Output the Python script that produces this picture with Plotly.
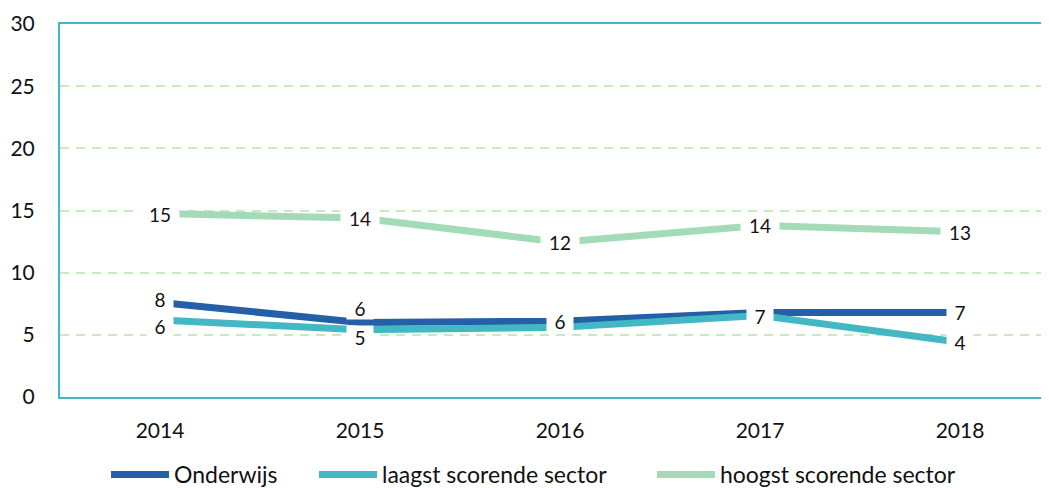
import plotly.graph_objects as go

# ---------------------------------------------------------------------------
# Data
# ---------------------------------------------------------------------------
years = ["2014", "2015", "2016", "2017", "2018"]
onderwijs = [7.6, 6.0, 6.1, 6.8, 6.8]
laagst = [6.2, 5.4, 5.6, 6.55, 4.4]
hoogst = [14.75, 14.4, 12.45, 13.8, 13.3]
y_ticks = [0, 5, 10, 15, 20, 25, 30]

series = [
    ("Onderwijs", onderwijs, "#245FA7"),
    ("laagst scorende sector", laagst, "#43B8C5"),
    ("hoogst scorende sector", hoogst, "#A3DBB8"),
]

# label nudges (px) where Excel moved crowded labels apart
_NUDGE = {
    ("Onderwijs", 0): 4,
    ("laagst scorende sector", 0): -6,
    ("Onderwijs", 1): 14,
    ("laagst scorende sector", 1): -7,
    ("Onderwijs", 3): -4,
}
# one legend box per entry so the spacing can follow the original
_LEGEND_X = [0.046, 0.254, 0.592]

_FONT = "Lato, 'Open Sans', sans-serif"
_INK = "#111111"
_AXIS = "#43B8C5"
_GRID = "#C8EBBE"

fig = go.Figure()
for k, (name, vals, color) in enumerate(series):
    fig.add_scatter(
        x=years,
        y=vals,
        name=name,
        mode="lines",
        line=dict(color=color, width=7),
        legend="legend" if k == 0 else f"legend{k + 1}",
    )

# data labels with a white box that cuts the lines, like Excel does.
# where two labels carry the same number on the same spot only one shows.
for s, (name, vals, color) in enumerate(series):
    for i, v in enumerate(vals):
        txt = str(round(v))
        if s == 1 and txt == str(round(onderwijs[i])) and abs(v - onderwijs[i]) < 0.8:
            continue
        fig.add_annotation(
            x=i,
            y=v,
            text=txt,
            showarrow=False,
            bgcolor="white",
            width=24 if len(txt) == 1 else 36,
            height=20,
            yshift=_NUDGE.get((name, i), 0),
            font=dict(family=_FONT, size=19, color=_INK),
        )

legend_style = dict(
    orientation="h",
    xanchor="left",
    y=-0.209,
    yanchor="middle",
    itemwidth=58,
    font=dict(family=_FONT, size=23, color=_INK),
    bgcolor="rgba(0,0,0,0)",
)
fig.update_layout(
    width=1052,
    height=488,
    paper_bgcolor="white",
    plot_bgcolor="white",
    margin=dict(l=52, r=0, t=16, b=99),
    font=dict(family=_FONT, size=21, color=_INK),
    showlegend=True,
    legend=dict(x=_LEGEND_X[0], **legend_style),
    legend2=dict(x=_LEGEND_X[1], **legend_style),
    legend3=dict(x=_LEGEND_X[2], **legend_style),
)
fig.update_xaxes(
    type="category",
    range=[-0.5, 4.5],
    showgrid=False,
    showline=True,
    linecolor=_AXIS,
    linewidth=2,
    mirror=True,
    ticks="",
    ticklabelstandoff=14,
    tickfont=dict(family=_FONT, size=21, color=_INK),
)
fig.update_yaxes(
    range=[0, 30],
    tickvals=y_ticks,
    showgrid=True,
    gridcolor=_GRID,
    gridwidth=1.5,
    griddash="9px,7px",
    showline=True,
    linecolor=_AXIS,
    linewidth=2,
    zeroline=False,
    ticks="",
    ticklabelstandoff=19,
    tickfont=dict(family=_FONT, size=21, color=_INK),
)

fig.write_html("out.html")
